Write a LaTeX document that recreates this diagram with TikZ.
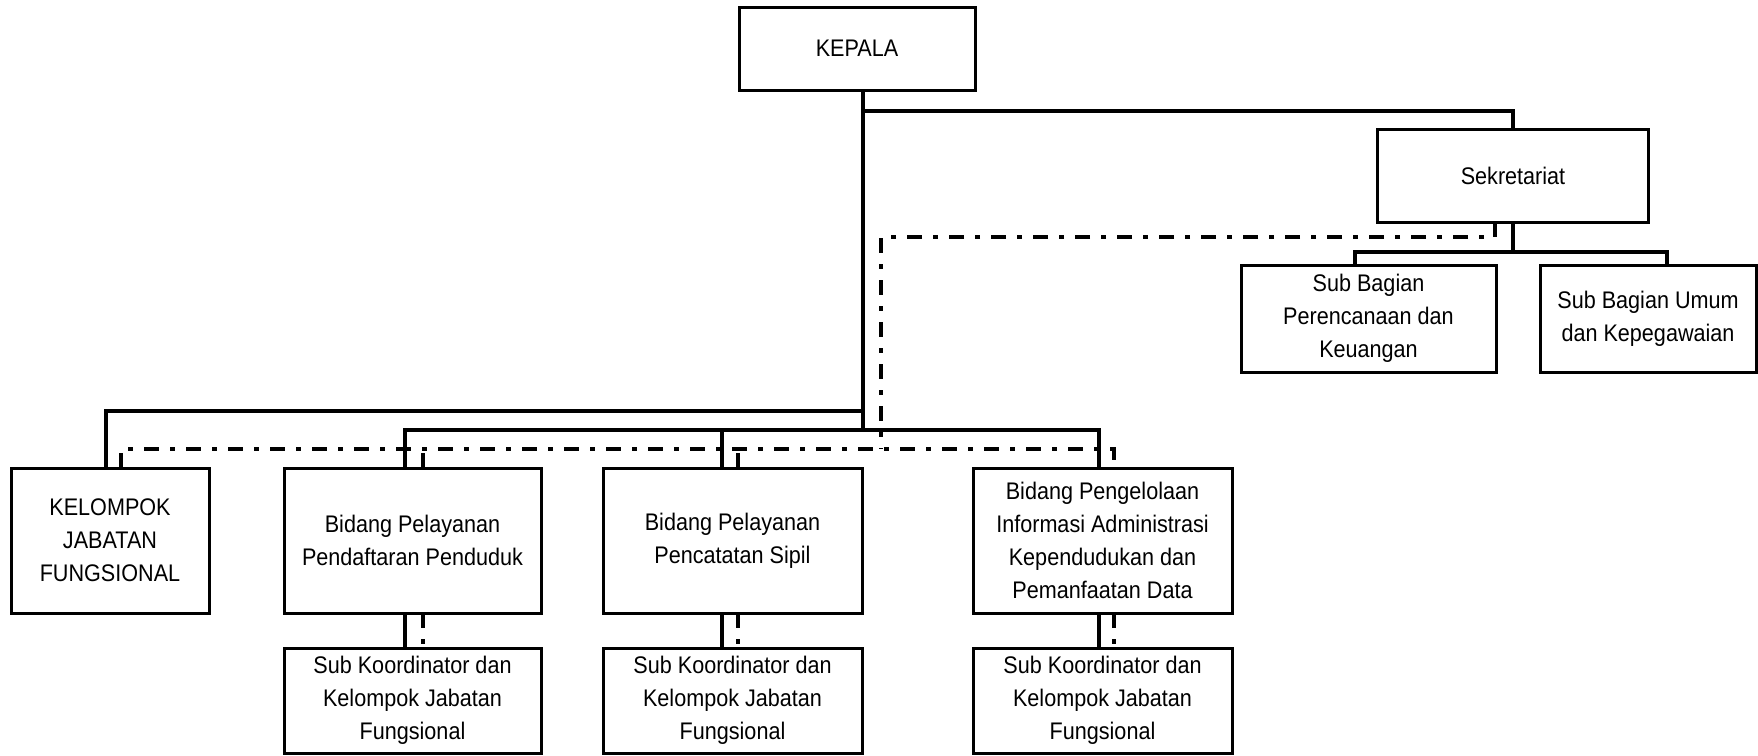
\documentclass[tikz,border=0pt]{standalone}
\usepackage{fontspec}
\setmainfont{Liberation Sans}[FakeStretch=0.9]
\begin{document}
\begin{tikzpicture}[x=1pt,y=-1pt,
  box/.style={draw, line width=3pt, inner sep=0pt, outer sep=0pt, align=center, font=\fontsize{24}{33}\selectfont},
  conn/.style={line width=4.6pt},
  dd/.style={line width=4.6pt, dash pattern=on 15pt off 11pt on 5pt off 11pt}]
\useasboundingbox (0,0) rectangle (1758,755);
% nodes
\node[box, minimum width=236pt, minimum height=83pt] (kepala) at (857,48.5) {KEPALA};
\node[box, minimum width=271pt, minimum height=93pt] (sek) at (1513,175.5) {Sekretariat};
\node[box, minimum width=255pt, minimum height=107pt] (sbp) at (1368.5,318.5) {Sub Bagian\\Perencanaan dan\\Keuangan};
\node[box, minimum width=216pt, minimum height=107pt] (sbu) at (1648,318.5) {Sub Bagian Umum\\dan Kepegawaian};
\node[box, minimum width=198pt, minimum height=145pt] (kjf) at (110,540.5) {KELOMPOK\\JABATAN\\FUNGSIONAL};
\node[box, minimum width=257pt, minimum height=145pt] (b1) at (412.5,540.5) {Bidang Pelayanan\\Pendaftaran Penduduk};
\node[box, minimum width=259pt, minimum height=145pt] (b2) at (732.5,540.5) {Bidang Pelayanan\\Pencatatan Sipil};
\node[box, minimum width=259pt, minimum height=145pt] (b3) at (1102.5,540.5) {Bidang Pengelolaan\\Informasi Administrasi\\Kependudukan dan\\Pemanfaatan Data};
\node[box, minimum width=257pt, minimum height=105pt] (s1) at (412.5,700.5) {Sub Koordinator dan\\Kelompok Jabatan\\Fungsional};
\node[box, minimum width=259pt, minimum height=105pt] (s2) at (732.5,700.5) {Sub Koordinator dan\\Kelompok Jabatan\\Fungsional};
\node[box, minimum width=259pt, minimum height=105pt] (s3) at (1102.5,700.5) {Sub Koordinator dan\\Kelompok Jabatan\\Fungsional};
% junction coordinates
\coordinate (h1) at (863,111);
\coordinate (tk) at (863,411);
\coordinate (tb) at (863,430);
\coordinate (xk) at (106,411);
\coordinate (bl) at (405,430);
\coordinate (bm) at (722,430);
\coordinate (br) at (1099,430);
\coordinate (sj) at (1513,252);
\coordinate (xa) at (1355,252);
\coordinate (xb) at (1667,252);
\coordinate (dd1) at (1495,237);
\coordinate (dd2) at (881,449);
\coordinate (e0) at (121,449);
\coordinate (e1) at (423,449);
\coordinate (e2) at (738,449);
\coordinate (e3) at (1114,449);
% solid connectors
\draw[conn] (kepala.south -| tb) -- (tb);
\draw[conn] (h1) -| (sek.north);
\draw[conn] (sek.south) -- (sj);
\draw[conn] (sbp.north -| xa) -- (xa) -- (xb) -- (sbu.north -| xb);
\draw[conn] (kjf.north -| xk) -- (xk) -- (tk);
\draw[conn] (b1.north -| bl) -- (bl) -- (br) -- (b3.north -| br);
\draw[conn] (b2.north -| bm) -- (bm);
\draw[conn] (b1.south -| bl) -- (s1.north -| bl);
\draw[conn] (b2.south -| bm) -- (s2.north -| bm);
\draw[conn] (b3.south -| br) -- (s3.north -| br);
% dash-dot connectors
\draw[dd] (sek.south -| dd1) -- (dd1) -| (dd2);
\draw[dd] (kjf.north -| e0) -- (e0) -- (e3) -- (b3.north -| e3);
\draw[dd] (b1.north -| e1) -- (e1);
\draw[dd] (b2.north -| e2) -- (e2);
\draw[dd] (b1.south -| e1) -- (s1.north -| e1);
\draw[dd] (b2.south -| e2) -- (s2.north -| e2);
\draw[dd] (b3.south -| e3) -- (s3.north -| e3);
\end{tikzpicture}
\end{document}
